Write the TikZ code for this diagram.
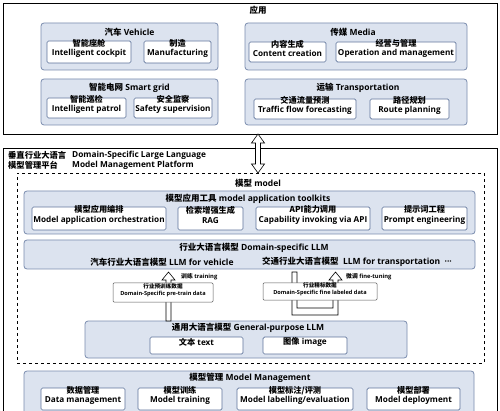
\documentclass[tikz,border=0pt]{standalone}
\usepackage{fontspec}
\setmainfont{Open Sans}
\newfontfamily\cjkfont{Noto Sans CJK SC}
\newcommand\zh[1]{{\cjkfont #1}}
\usetikzlibrary{fit}
\definecolor{boxfill}{HTML}{DCE3EF}
\definecolor{boxline}{HTML}{7A8CAE}
\definecolor{subline}{HTML}{5E739A}
\begin{document}
\begin{tikzpicture}[x=1pt,y=-1pt,
  panel/.style={draw=boxline, fill=boxfill, rounded corners=3pt, line width=0.8pt, inner sep=0pt},
  item/.style={draw=subline, fill=white, rounded corners=1.5pt, line width=0.7pt, inner sep=0pt, align=center,
    font=\fontsize{8.2}{9.4}\selectfont\bfseries},
  head/.style={inner sep=0pt, font=\fontsize{8.5}{10}\selectfont\bfseries},
  small/.style={draw=black!65, fill=white, line width=0.5pt, rounded corners=1pt, inner sep=0pt, align=center,
    font=\fontsize{5.6}{6.8}\selectfont\bfseries},
  tiny/.style={inner sep=0pt, font=\fontsize{5.8}{7}\selectfont\bfseries},
  frame/.style={draw=black, line width=0.6pt},
  hollow/.style={draw=black, fill=white, line width=0.6pt, line join=miter}
]
\useasboundingbox (0,0) rectangle (500,411);
\clip (0,0) rectangle (500,411);
\fill[white] (0,0) rectangle (500,411);

% ---------- application ----------
\node[frame, fit={(3,3) (497,134)}, inner sep=0pt] (app) {};
\node[head] (apptitle) at (258,10) {\zh{应用}};

\node[panel, fit={(41,23) (218,70)}] (veh) {};
\node[head] (vehhead) at (129.5,32) {\zh{汽车} Vehicle};
\node[item, fit={(47,41) (131,63)}] (cockpit) {\zh{智能座舱}\\Intelligent cockpit};
\node[item, fit={(144,41) (211,63)}] (manuf) {\zh{制造}\\Manufacturing};

\node[panel, fit={(41,79) (218,125)}] (grid) {};
\node[head] (gridhead) at (129.5,88) {\zh{智能电网} Smart grid};
\node[item, fit={(47,98) (126,118)}] (patrol) {\zh{智能巡检}\\Intelligent patrol};
\node[item, fit={(134,98) (212,118)}] (safety) {\zh{安全监察}\\Safety supervision};

\node[panel, fit={(245,23) (467,70)}] (media) {};
\node[head] (mediahead) at (353,32) {\zh{传媒} Media};
\node[item, fit={(249,42) (326,62)}] (content) {\zh{内容生成}\\Content creation};
\node[item, fit={(336,42) (456,62)}] (oper) {\zh{经营与管理}\\Operation and management};

\node[panel, fit={(245,79) (467,125)}] (trans) {};
\node[head] (transhead) at (358,88) {\zh{运输} Transportation};
\node[item, fit={(254,99) (356,119)}] (traffic) {\zh{交通流量预测}\\Traffic flow forecasting};
\node[item, fit={(370,99) (449,119)}] (route) {\zh{路径规划}\\Route planning};

% ---------- platform ----------
\node[frame, fit={(3,148) (497,430)}, inner sep=0pt] (plat) {};
\node[head, anchor=west, align=left, font=\fontsize{8.3}{10}\selectfont\bfseries] (plattitlezh) at (8,160) {\zh{垂直行业大语言}\\\zh{模型管理平台}};
\node[head, anchor=west, align=left, font=\fontsize{8.3}{9.5}\selectfont\bfseries] (plattitleen) at (72,160.5) {Domain-Specific Large Language\\Model Management Platform};

% double arrow between application and model
\coordinate (datop) at (258,134);
\coordinate (dabot) at (258,173);
\draw[hollow] (datop) -- ++(6.5,9) -- ++(-4,0) -- ++(0,21) -- ++(4,0) -- (dabot)
  -- ++(-6.5,-9) -- ++(4,0) -- ++(0,-21) -- ++(-4,0) -- cycle;

% dashed model area
\node[draw=black, dashed, line width=0.7pt, fit={(17,173) (484,363)}, inner sep=0pt] (model) {};
\node[head] (modeltitle) at (258,183) {\zh{模型} model};

% toolkits
\node[panel, fit={(24,191) (475,234)}] (tool) {};
\node[head] (toolhead) at (248,198.5) {\zh{模型应用工具} model application toolkits};
\node[item, fit={(32,207) (166,230)}] (orch) {\zh{模型应用编排}\\Model application orchestration};
\node[item, fit={(178,207) (243,230)}] (rag) {\zh{检索增强生成}\\RAG};
\node[item, fit={(256,207) (370,230)}] (api) {\zh{API能力调用}\\Capability invoking via API};
\node[item, fit={(382,207) (467,230)}] (prompt) {\zh{提示词工程}\\Prompt engineering};

% domain-specific LLM
\node[panel, fit={(24,240) (475,269)}] (dllm) {};
\node[head] (dllmhead) at (254,248) {\zh{行业大语言模型} Domain-specific LLM};
\node[head] (vehllm) at (162,262) {\zh{汽车行业大语言模型} LLM for vehicle};
\node[head] (transllm) at (357,262) {\zh{交通行业大语言模型}\ \ LLM for transportation \ ···};

% general LLM
\node[panel, fit={(85,321) (407,358)}] (gllm) {};

% training arrow
\draw[hollow] (166,321) -- (166,280) -- (162,280) -- (168.5,272) -- (175,280) -- (171,280) -- (171,321) -- cycle;
\node[tiny, anchor=west] (trainlbl) at (181,277) {\zh{训练} training};
\node[small, fit={(113,283) (213,302)}] (pretrain) {\zh{行业预训练数据}\\Domain-Specific pre-train data};

% fine-tuning loop
\draw[hollow] (292,272) -- (292,315) -- (338,315) -- (338,280) -- (342,280) -- (335.5,272) -- (329,280)
  -- (333,280) -- (333,308) -- (297,308) -- (297,272) -- cycle;
\node[tiny, anchor=west] (ftlbl) at (346,277) {\zh{微调} fine-tuning};
\node[small, fit={(263,283) (377,300)}] (finedata) {\zh{行业精标数据}\\Domain-Specific fine labeled data};

\node[head] (gllmhead) at (248,327.5) {\zh{通用大语言模型} General-purpose LLM};
\node[item, fit={(150,337) (243,354)}] (txt) {\zh{文本} text};
\node[item, fit={(263,337) (347,354)}] (img) {\zh{图像} image};

% model management
\node[panel, fit={(24,371) (474,430)}] (mgmt) {};
\node[head] (mgmthead) at (250,377.5) {\zh{模型管理} Model Management};
\node[item, fit={(41,388) (125,410)}] (datam) {\zh{数据管理}\\Data management};
\node[item, fit={(138,388) (222,410)}] (trainm) {\zh{模型训练}\\Model training};
\node[item, fit={(237,388) (353,410)}] (labelm) {\zh{模型标注/评测}\\Model labelling/evaluation};
\node[item, fit={(367,388) (460,410)}] (deploym) {\zh{模型部署}\\Model deployment};
\end{tikzpicture}
\end{document}
